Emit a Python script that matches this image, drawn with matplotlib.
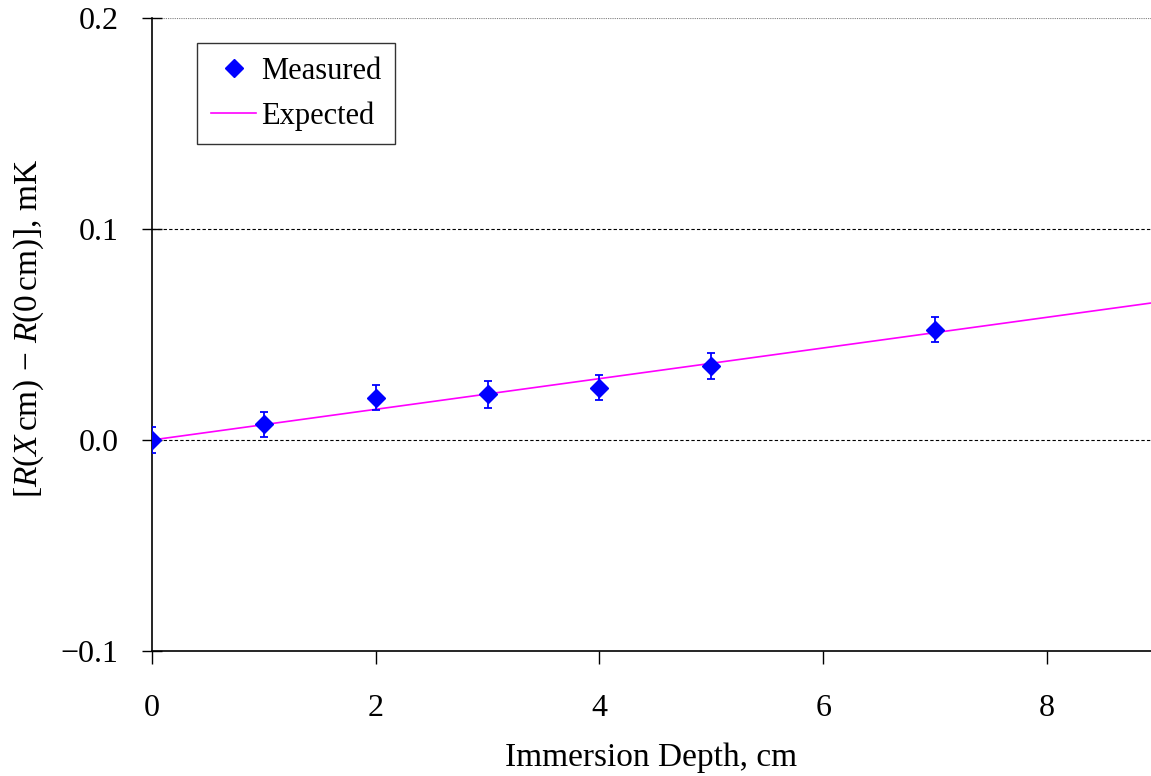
import matplotlib
matplotlib.use("Agg")
import matplotlib.pyplot as plt
from matplotlib.lines import Line2D

plt.rcParams['font.family'] = ['Liberation Serif', 'DejaVu Serif']
plt.rcParams['mathtext.fontset'] = 'custom'
plt.rcParams['mathtext.rm'] = 'Liberation Serif'
plt.rcParams['mathtext.it'] = 'Liberation Serif:italic'

depth = [0, 1, 2, 3, 4, 5, 7]
measured = [0.0, 0.0074, 0.020, 0.0216, 0.0248, 0.035, 0.0523]
errors = [0.006, 0.006, 0.006, 0.0063, 0.006, 0.006, 0.006]
expected_x = [0, 9]
expected_y = [0, 0.0654]
xticks = [0, 2, 4, 6, 8]
yticks = [-0.1, 0.0, 0.1, 0.2]
ytick_labels = ['\u22120.1', '0.0', '0.1', '0.2']

fig = plt.figure(figsize=(11.51, 7.76), dpi=100)
ax = fig.add_axes([0.132, 0.161, 0.868, 0.816])

for yv in [0.0, 0.1]:
    ax.axhline(yv, color='black', linestyle=(0, (3, 2)), linewidth=0.8, zorder=1)
ax.axhline(0.2, color='gray', linestyle=(0, (1, 1)), linewidth=0.8, zorder=1)

ax.plot(expected_x, expected_y, color='#FF00FF', linewidth=1.2, label='Expected', zorder=2)
ax.errorbar(depth, measured, yerr=errors, fmt='D', color='#0000FF', markersize=9,
            ecolor='#0000FF', elinewidth=1.3, capsize=2.8, capthick=1.3,
            label='Measured', zorder=3)

ax.set_xlim(0, 8.93)
ax.set_ylim(-0.1, 0.2)
ax.set_xticks(xticks)
ax.set_yticks(yticks)
ax.set_yticklabels(ytick_labels)

for s in ['top', 'right']:
    ax.spines[s].set_visible(False)
ax.spines['left'].set_linewidth(1.2)
ax.spines['bottom'].set_linewidth(1.2)

ax.tick_params(axis='x', direction='out', length=9, width=1, pad=22, labelsize=23)
ax.tick_params(axis='y', direction='inout', length=14, width=1, pad=17, labelsize=23)

ax.set_xlabel('Immersion Depth, cm', fontsize=24, labelpad=14)
ax.set_ylabel(r'$[\mathit{R}(\mathit{X}\,\mathrm{cm})\,-\,\mathit{R}(0\,\mathrm{cm})]$, mK',
              fontsize=24, labelpad=10)
ax.yaxis.set_label_coords(-0.106, 0.51)

h_meas = Line2D([], [], marker='D', color='#0000FF', linestyle='None', markersize=9)
h_exp = Line2D([], [], color='#FF00FF', linewidth=1.2)
leg = ax.legend([h_meas, h_exp], ['Measured', 'Expected'], loc='upper left',
                bbox_to_anchor=(0.045, 0.96), borderaxespad=0, fontsize=22,
                frameon=True, fancybox=False, edgecolor='black',
                handlelength=1.5, handletextpad=0.15,
                borderpad=0.45, labelspacing=0.5)
leg.get_frame().set_linewidth(1.0)

fig.savefig('out.png', dpi=100)
